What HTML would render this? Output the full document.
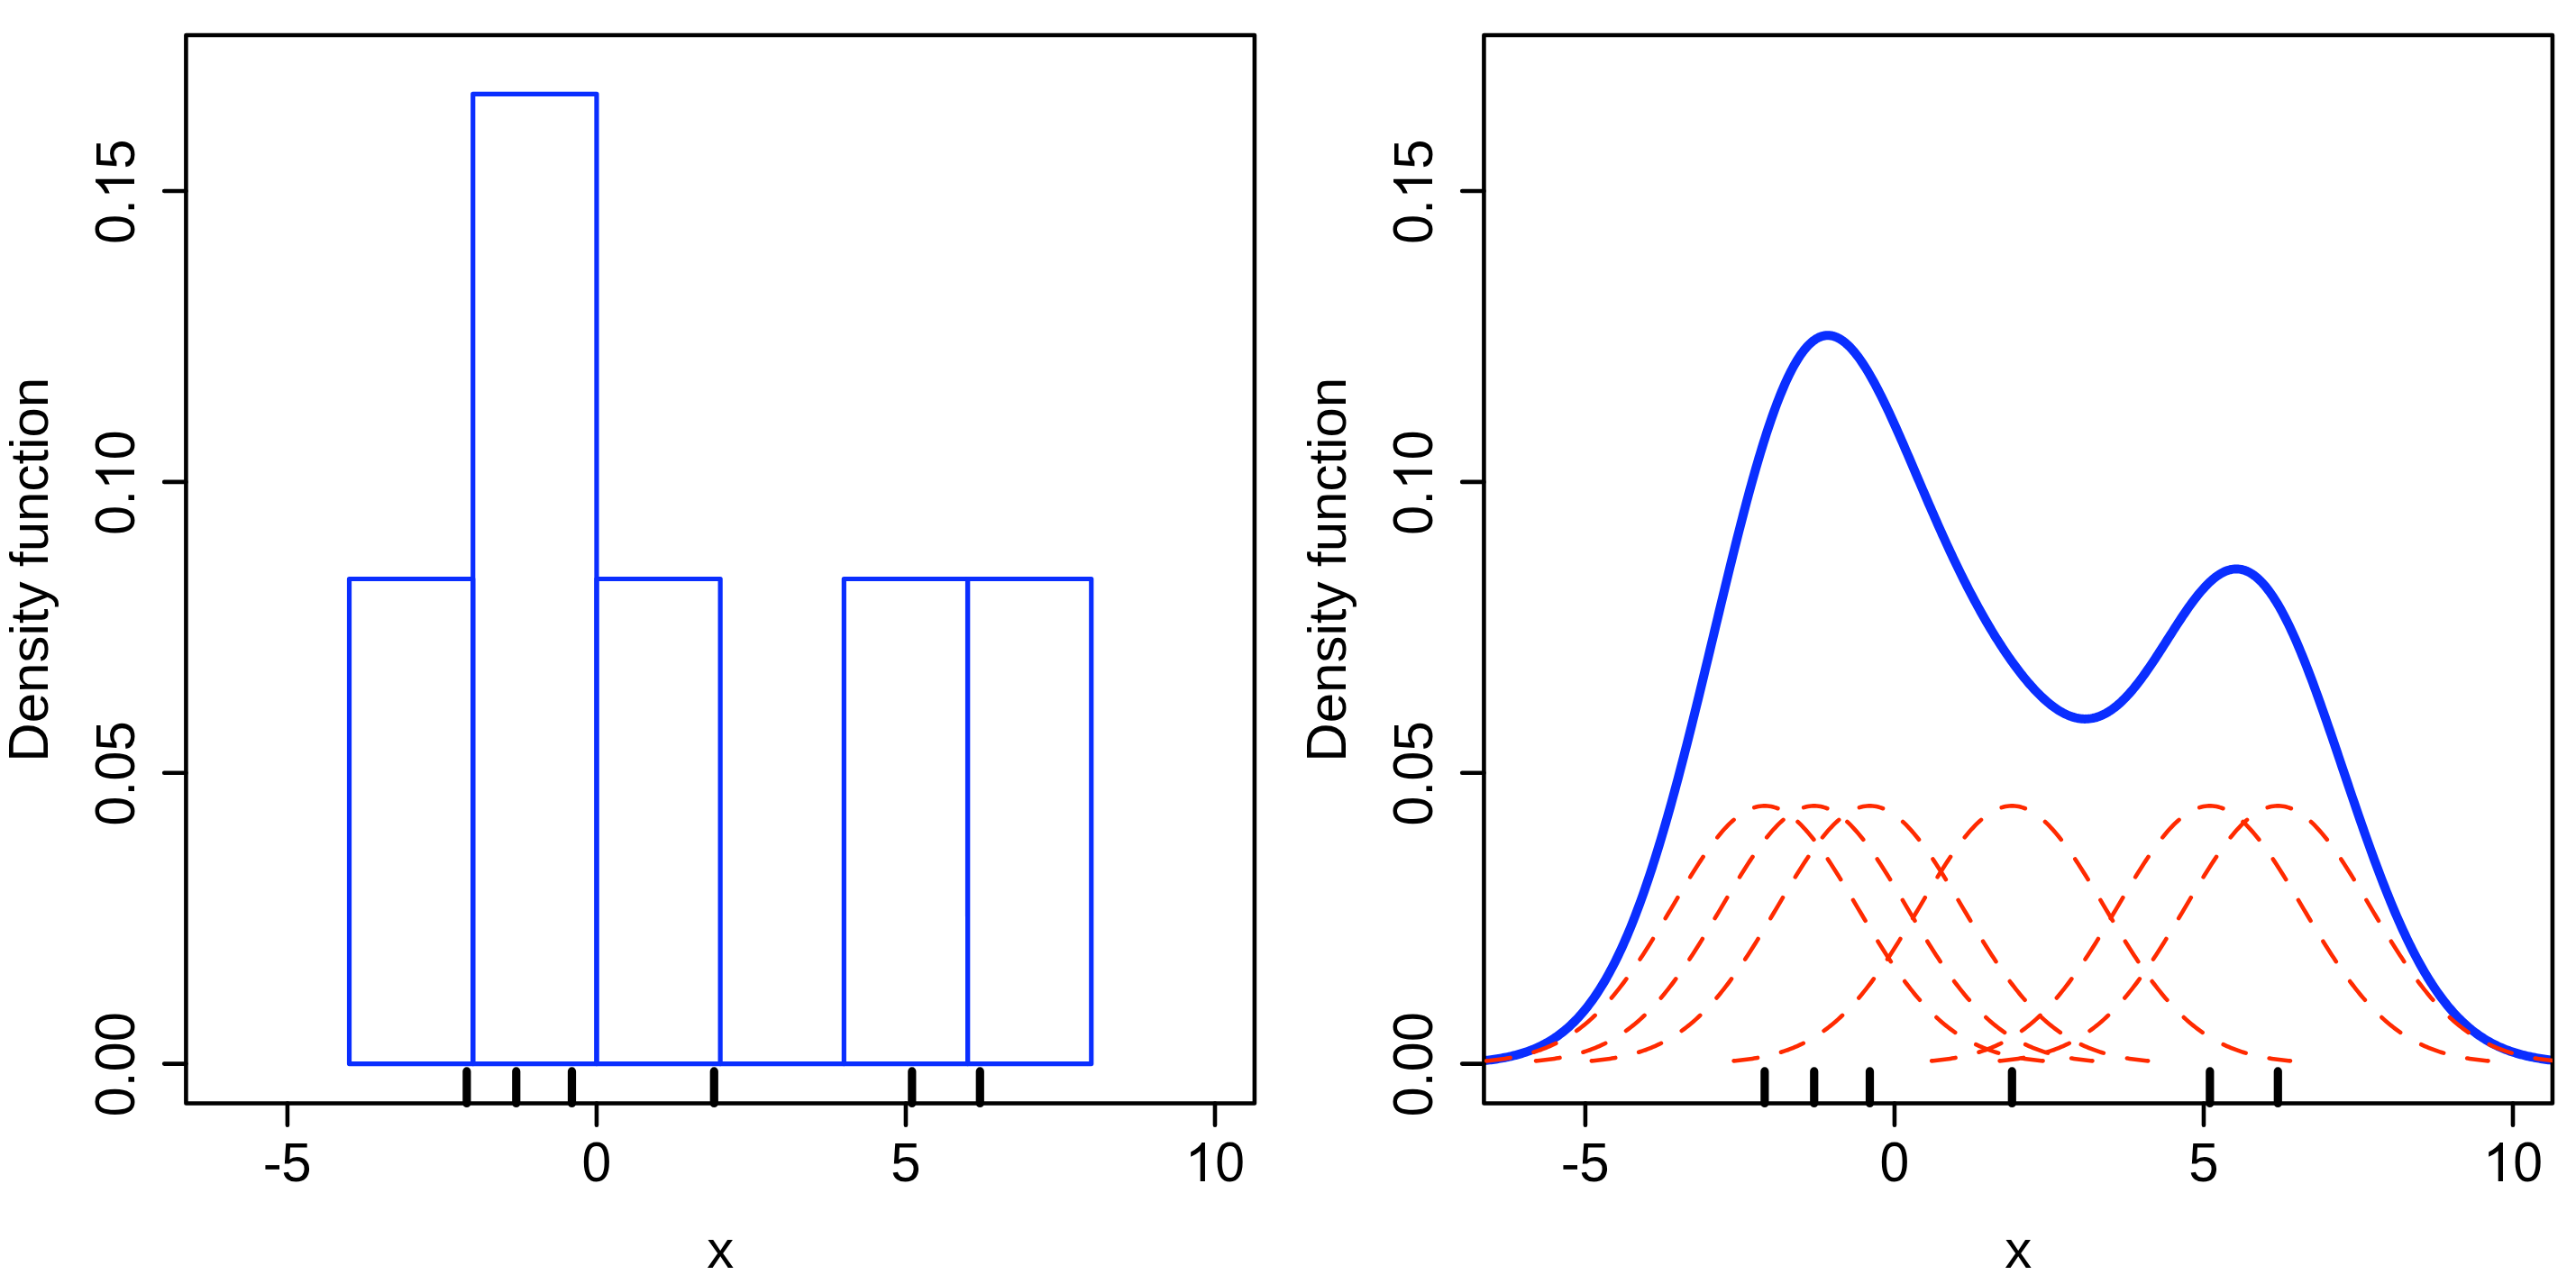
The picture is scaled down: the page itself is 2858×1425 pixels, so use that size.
<!DOCTYPE html><html><head><meta charset="utf-8"><style>html,body{margin:0;padding:0;background:#fff;overflow:hidden}svg{display:block}text{font-family:"Liberation Sans",sans-serif;font-size:60px;fill:#000}</style></head><body>
<svg width="2858" height="1425" viewBox="0 0 2858 1425">
<rect width="100%" height="100%" fill="#fff"/>
<defs>
<clipPath id="cl"><rect x="206.4" y="39" width="1185.5" height="1185.5"/></clipPath>
<clipPath id="cr"><rect x="1646.4" y="39" width="1185.5" height="1185.5"/></clipPath>
</defs>
<g clip-path="url(#cl)" fill="none" stroke="#0a2eff" stroke-width="5.2" stroke-linejoin="round" stroke-linecap="round">
<path d="M387.52,1180.59 L524.73,1180.59 L524.73,642.51 L387.52,642.51 Z"/>
<path d="M524.73,1180.59 L661.94,1180.59 L661.94,104.43 L524.73,104.43 Z"/>
<path d="M661.94,1180.59 L799.15,1180.59 L799.15,642.51 L661.94,642.51 Z"/>
<path d="M799.15,1180.59 L936.36,1180.59 L936.36,1180.59 L799.15,1180.59 Z"/>
<path d="M936.36,1180.59 L1073.57,1180.59 L1073.57,642.51 L936.36,642.51 Z"/>
<path d="M1073.57,1180.59 L1210.78,1180.59 L1210.78,642.51 L1073.57,642.51 Z"/>
</g>
<g fill="none" stroke="#000" stroke-width="4.6" stroke-linejoin="round" stroke-linecap="round">
<rect x="206.4" y="39" width="1185.5" height="1185.5"/>
<line x1="318.91" y1="1224.5" x2="318.91" y2="1248.7"/>
<line x1="661.94" y1="1224.5" x2="661.94" y2="1248.7"/>
<line x1="1004.97" y1="1224.5" x2="1004.97" y2="1248.7"/>
<line x1="1347.99" y1="1224.5" x2="1347.99" y2="1248.7"/>
<line x1="206.4" y1="1180.59" x2="182.2" y2="1180.59"/>
<line x1="206.4" y1="857.74" x2="182.2" y2="857.74"/>
<line x1="206.4" y1="534.9" x2="182.2" y2="534.9"/>
<line x1="206.4" y1="212.05" x2="182.2" y2="212.05"/>
</g>
<g stroke="#000" stroke-width="9.2" stroke-linecap="round">
<line x1="517.87" y1="1224.5" x2="517.87" y2="1188.93"/>
<line x1="572.75" y1="1224.5" x2="572.75" y2="1188.93"/>
<line x1="634.5" y1="1224.5" x2="634.5" y2="1188.93"/>
<line x1="792.29" y1="1224.5" x2="792.29" y2="1188.93"/>
<line x1="1011.83" y1="1224.5" x2="1011.83" y2="1188.93"/>
<line x1="1087.29" y1="1224.5" x2="1087.29" y2="1188.93"/>
</g>
<g transform="translate(318.91,1310.9)"><rect x="-24.48" y="-17.78" width="15.59" height="4.69"/><text transform="translate(-6.69,0) scale(1,1.025)">5</text></g>
<g transform="translate(661.94,1310.9)"><text transform="translate(0,0) scale(0.98,1.045) translate(-16.68,0)">0</text></g>
<g transform="translate(1004.97,1310.9)"><text transform="translate(-16.68,0) scale(1,1.025)">5</text></g>
<g transform="translate(1347.99,1310.9)"><path transform="translate(-33.37,0)" d="M 22.35,-0 L 17.08,-0 L 17.08,-33.6 Q 15.18,-31.79 12.07,-29.97 Q 8.96,-28.15 6.53,-27.25 L 6.53,-32.34 Q 10.9,-34.39 14.18,-37.32 Q 17.46,-40.25 18.84,-42.95 L 22.35,-42.95 Z"/><text transform="translate(16.68,0) scale(0.98,1.045) translate(-16.68,0)">0</text></g>
<g transform="translate(149,1181.29) rotate(-90)"><text transform="translate(-41.7,0) scale(0.98,1.045) translate(-16.68,0)">0</text><text transform="translate(-25.02,0) scale(1,1.03)">.</text><text transform="translate(8.33,0) scale(0.98,1.045) translate(-16.68,0)">0</text><text transform="translate(41.7,0) scale(0.98,1.045) translate(-16.68,0)">0</text></g>
<g transform="translate(149,858.44) rotate(-90)"><text transform="translate(-41.7,0) scale(0.98,1.045) translate(-16.68,0)">0</text><text transform="translate(-25.02,0) scale(1,1.03)">.</text><text transform="translate(8.33,0) scale(0.98,1.045) translate(-16.68,0)">0</text><text transform="translate(25.02,0) scale(1,1.025)">5</text></g>
<g transform="translate(149,535.6) rotate(-90)"><text transform="translate(-41.7,0) scale(0.98,1.045) translate(-16.68,0)">0</text><text transform="translate(-25.02,0) scale(1,1.03)">.</text><path transform="translate(-8.35,0)" d="M 22.35,-0 L 17.08,-0 L 17.08,-33.6 Q 15.18,-31.79 12.07,-29.97 Q 8.96,-28.15 6.53,-27.25 L 6.53,-32.34 Q 10.9,-34.39 14.18,-37.32 Q 17.46,-40.25 18.84,-42.95 L 22.35,-42.95 Z"/><text transform="translate(41.7,0) scale(0.98,1.045) translate(-16.68,0)">0</text></g>
<g transform="translate(149,212.75) rotate(-90)"><text transform="translate(-41.7,0) scale(0.98,1.045) translate(-16.68,0)">0</text><text transform="translate(-25.02,0) scale(1,1.03)">.</text><path transform="translate(-8.35,0)" d="M 22.35,-0 L 17.08,-0 L 17.08,-33.6 Q 15.18,-31.79 12.07,-29.97 Q 8.96,-28.15 6.53,-27.25 L 6.53,-32.34 Q 10.9,-34.39 14.18,-37.32 Q 17.46,-40.25 18.84,-42.95 L 22.35,-42.95 Z"/><text transform="translate(25.02,0) scale(1,1.025)">5</text></g>
<text x="799.15" y="1406.9" text-anchor="middle">x</text>
<g transform="translate(52.8,632.25) rotate(-90)"><text transform="translate(-213.44,0) scale(1,1.04)">D</text><text x="-170.11" y="0">ensity function</text></g>
<g clip-path="url(#cr)" fill="none" stroke="#0a2eff" stroke-width="10.0" stroke-linejoin="round" stroke-linecap="round">
<path d="M1649.14,1176.8 L1650.84,1176.6 L1652.54,1176.39 L1654.24,1176.18 L1655.94,1175.95 L1657.63,1175.71 L1659.33,1175.46 L1661.03,1175.2 L1662.73,1174.93 L1664.43,1174.65 L1666.12,1174.35 L1667.82,1174.04 L1669.52,1173.72 L1671.22,1173.39 L1672.92,1173.03 L1674.61,1172.67 L1676.31,1172.29 L1678.01,1171.89 L1679.71,1171.47 L1681.41,1171.04 L1683.1,1170.59 L1684.8,1170.12 L1686.5,1169.63 L1688.2,1169.13 L1689.9,1168.6 L1691.59,1168.05 L1693.29,1167.48 L1694.99,1166.88 L1696.69,1166.27 L1698.38,1165.62 L1700.08,1164.96 L1701.78,1164.27 L1703.48,1163.55 L1705.18,1162.81 L1706.87,1162.03 L1708.57,1161.23 L1710.27,1160.4 L1711.97,1159.54 L1713.67,1158.65 L1715.36,1157.73 L1717.06,1156.77 L1718.76,1155.78 L1720.46,1154.76 L1722.16,1153.7 L1723.85,1152.6 L1725.55,1151.46 L1727.25,1150.29 L1728.95,1149.08 L1730.65,1147.83 L1732.34,1146.53 L1734.04,1145.2 L1735.74,1143.82 L1737.44,1142.4 L1739.14,1140.93 L1740.83,1139.41 L1742.53,1137.85 L1744.23,1136.24 L1745.93,1134.58 L1747.63,1132.87 L1749.32,1131.11 L1751.02,1129.3 L1752.72,1127.44 L1754.42,1125.52 L1756.12,1123.54 L1757.81,1121.51 L1759.51,1119.42 L1761.21,1117.28 L1762.91,1115.07 L1764.61,1112.8 L1766.3,1110.48 L1768,1108.09 L1769.7,1105.64 L1771.4,1103.12 L1773.1,1100.54 L1774.79,1097.9 L1776.49,1095.18 L1778.19,1092.4 L1779.89,1089.56 L1781.58,1086.64 L1783.28,1083.65 L1784.98,1080.6 L1786.68,1077.47 L1788.38,1074.27 L1790.07,1070.99 L1791.77,1067.65 L1793.47,1064.23 L1795.17,1060.73 L1796.87,1057.16 L1798.56,1053.52 L1800.26,1049.8 L1801.96,1046 L1803.66,1042.12 L1805.36,1038.17 L1807.05,1034.14 L1808.75,1030.04 L1810.45,1025.85 L1812.15,1021.59 L1813.85,1017.25 L1815.54,1012.83 L1817.24,1008.33 L1818.94,1003.75 L1820.64,999.1 L1822.34,994.36 L1824.03,989.55 L1825.73,984.66 L1827.43,979.7 L1829.13,974.66 L1830.83,969.54 L1832.52,964.34 L1834.22,959.07 L1835.92,953.72 L1837.62,948.3 L1839.32,942.81 L1841.01,937.24 L1842.71,931.61 L1844.41,925.9 L1846.11,920.12 L1847.81,914.27 L1849.5,908.36 L1851.2,902.37 L1852.9,896.33 L1854.6,890.22 L1856.29,884.04 L1857.99,877.81 L1859.69,871.52 L1861.39,865.17 L1863.09,858.76 L1864.78,852.3 L1866.48,845.78 L1868.18,839.22 L1869.88,832.61 L1871.58,825.95 L1873.27,819.24 L1874.97,812.49 L1876.67,805.71 L1878.37,798.88 L1880.07,792.02 L1881.76,785.13 L1883.46,778.2 L1885.16,771.25 L1886.86,764.27 L1888.56,757.26 L1890.25,750.24 L1891.95,743.2 L1893.65,736.14 L1895.35,729.07 L1897.05,721.99 L1898.74,714.9 L1900.44,707.81 L1902.14,700.72 L1903.84,693.63 L1905.54,686.55 L1907.23,679.47 L1908.93,672.4 L1910.63,665.35 L1912.33,658.32 L1914.03,651.31 L1915.72,644.32 L1917.42,637.35 L1919.12,630.42 L1920.82,623.52 L1922.52,616.65 L1924.21,609.83 L1925.91,603.04 L1927.61,596.31 L1929.31,589.62 L1931.01,582.98 L1932.7,576.4 L1934.4,569.88 L1936.1,563.42 L1937.8,557.02 L1939.49,550.69 L1941.19,544.43 L1942.89,538.25 L1944.59,532.14 L1946.29,526.11 L1947.98,520.17 L1949.68,514.31 L1951.38,508.53 L1953.08,502.85 L1954.78,497.26 L1956.47,491.77 L1958.17,486.38 L1959.87,481.09 L1961.57,475.9 L1963.27,470.82 L1964.96,465.85 L1966.66,460.98 L1968.36,456.24 L1970.06,451.6 L1971.76,447.09 L1973.45,442.69 L1975.15,438.42 L1976.85,434.27 L1978.55,430.24 L1980.25,426.34 L1981.94,422.57 L1983.64,418.92 L1985.34,415.41 L1987.04,412.03 L1988.74,408.78 L1990.43,405.67 L1992.13,402.7 L1993.83,399.86 L1995.53,397.15 L1997.23,394.59 L1998.92,392.16 L2000.62,389.87 L2002.32,387.72 L2004.02,385.72 L2005.72,383.85 L2007.41,382.12 L2009.11,380.53 L2010.81,379.08 L2012.51,377.77 L2014.21,376.6 L2015.9,375.57 L2017.6,374.68 L2019.3,373.92 L2021,373.31 L2022.69,372.83 L2024.39,372.48 L2026.09,372.27 L2027.79,372.19 L2029.49,372.25 L2031.18,372.43 L2032.88,372.75 L2034.58,373.2 L2036.28,373.77 L2037.98,374.46 L2039.67,375.28 L2041.37,376.23 L2043.07,377.29 L2044.77,378.47 L2046.47,379.77 L2048.16,381.18 L2049.86,382.7 L2051.56,384.34 L2053.26,386.08 L2054.96,387.93 L2056.65,389.88 L2058.35,391.93 L2060.05,394.08 L2061.75,396.33 L2063.45,398.67 L2065.14,401.1 L2066.84,403.62 L2068.54,406.23 L2070.24,408.92 L2071.94,411.69 L2073.63,414.54 L2075.33,417.46 L2077.03,420.46 L2078.73,423.53 L2080.43,426.66 L2082.12,429.86 L2083.82,433.13 L2085.52,436.45 L2087.22,439.83 L2088.92,443.26 L2090.61,446.74 L2092.31,450.27 L2094.01,453.85 L2095.71,457.47 L2097.4,461.13 L2099.1,464.83 L2100.8,468.56 L2102.5,472.33 L2104.2,476.13 L2105.89,479.95 L2107.59,483.81 L2109.29,487.68 L2110.99,491.58 L2112.69,495.49 L2114.38,499.42 L2116.08,503.36 L2117.78,507.32 L2119.48,511.28 L2121.18,515.25 L2122.87,519.23 L2124.57,523.21 L2126.27,527.19 L2127.97,531.18 L2129.67,535.16 L2131.36,539.13 L2133.06,543.11 L2134.76,547.07 L2136.46,551.02 L2138.16,554.97 L2139.85,558.9 L2141.55,562.82 L2143.25,566.73 L2144.95,570.62 L2146.65,574.49 L2148.34,578.35 L2150.04,582.18 L2151.74,586 L2153.44,589.8 L2155.14,593.57 L2156.83,597.32 L2158.53,601.05 L2160.23,604.75 L2161.93,608.42 L2163.63,612.07 L2165.32,615.7 L2167.02,619.29 L2168.72,622.86 L2170.42,626.41 L2172.12,629.92 L2173.81,633.4 L2175.51,636.86 L2177.21,640.28 L2178.91,643.67 L2180.6,647.04 L2182.3,650.37 L2184,653.68 L2185.7,656.95 L2187.4,660.19 L2189.09,663.4 L2190.79,666.58 L2192.49,669.73 L2194.19,672.84 L2195.89,675.93 L2197.58,678.98 L2199.28,682 L2200.98,684.99 L2202.68,687.95 L2204.38,690.87 L2206.07,693.77 L2207.77,696.63 L2209.47,699.46 L2211.17,702.26 L2212.87,705.03 L2214.56,707.76 L2216.26,710.46 L2217.96,713.13 L2219.66,715.77 L2221.36,718.37 L2223.05,720.94 L2224.75,723.48 L2226.45,725.99 L2228.15,728.46 L2229.85,730.9 L2231.54,733.3 L2233.24,735.67 L2234.94,738.01 L2236.64,740.31 L2238.34,742.57 L2240.03,744.8 L2241.73,747 L2243.43,749.16 L2245.13,751.28 L2246.83,753.36 L2248.52,755.41 L2250.22,757.41 L2251.92,759.38 L2253.62,761.31 L2255.31,763.2 L2257.01,765.05 L2258.71,766.85 L2260.41,768.62 L2262.11,770.34 L2263.8,772.01 L2265.5,773.65 L2267.2,775.23 L2268.9,776.78 L2270.6,778.27 L2272.29,779.72 L2273.99,781.11 L2275.69,782.46 L2277.39,783.76 L2279.09,785.01 L2280.78,786.2 L2282.48,787.34 L2284.18,788.43 L2285.88,789.46 L2287.58,790.44 L2289.27,791.36 L2290.97,792.23 L2292.67,793.03 L2294.37,793.78 L2296.07,794.47 L2297.76,795.1 L2299.46,795.66 L2301.16,796.16 L2302.86,796.6 L2304.56,796.98 L2306.25,797.29 L2307.95,797.54 L2309.65,797.72 L2311.35,797.84 L2313.05,797.89 L2314.74,797.87 L2316.44,797.78 L2318.14,797.63 L2319.84,797.41 L2321.54,797.12 L2323.23,796.76 L2324.93,796.33 L2326.63,795.83 L2328.33,795.26 L2330.03,794.63 L2331.72,793.92 L2333.42,793.15 L2335.12,792.3 L2336.82,791.39 L2338.51,790.41 L2340.21,789.36 L2341.91,788.24 L2343.61,787.05 L2345.31,785.8 L2347,784.48 L2348.7,783.1 L2350.4,781.65 L2352.1,780.14 L2353.8,778.57 L2355.49,776.93 L2357.19,775.24 L2358.89,773.48 L2360.59,771.67 L2362.29,769.8 L2363.98,767.87 L2365.68,765.89 L2367.38,763.86 L2369.08,761.77 L2370.78,759.64 L2372.47,757.46 L2374.17,755.23 L2375.87,752.96 L2377.57,750.65 L2379.27,748.3 L2380.96,745.91 L2382.66,743.49 L2384.36,741.03 L2386.06,738.54 L2387.76,736.02 L2389.45,733.48 L2391.15,730.91 L2392.85,728.32 L2394.55,725.71 L2396.25,723.09 L2397.94,720.45 L2399.64,717.8 L2401.34,715.14 L2403.04,712.48 L2404.74,709.81 L2406.43,707.14 L2408.13,704.48 L2409.83,701.82 L2411.53,699.17 L2413.22,696.53 L2414.92,693.9 L2416.62,691.29 L2418.32,688.7 L2420.02,686.14 L2421.71,683.59 L2423.41,681.08 L2425.11,678.6 L2426.81,676.15 L2428.51,673.74 L2430.2,671.37 L2431.9,669.04 L2433.6,666.76 L2435.3,664.53 L2437,662.35 L2438.69,660.22 L2440.39,658.14 L2442.09,656.13 L2443.79,654.18 L2445.49,652.29 L2447.18,650.47 L2448.88,648.72 L2450.58,647.04 L2452.28,645.43 L2453.98,643.9 L2455.67,642.45 L2457.37,641.08 L2459.07,639.8 L2460.77,638.59 L2462.47,637.48 L2464.16,636.45 L2465.86,635.51 L2467.56,634.67 L2469.26,633.92 L2470.96,633.26 L2472.65,632.71 L2474.35,632.25 L2476.05,631.89 L2477.75,631.63 L2479.45,631.47 L2481.14,631.42 L2482.84,631.47 L2484.54,631.62 L2486.24,631.89 L2487.94,632.25 L2489.63,632.73 L2491.33,633.31 L2493.03,634 L2494.73,634.8 L2496.42,635.71 L2498.12,636.73 L2499.82,637.86 L2501.52,639.09 L2503.22,640.44 L2504.91,641.89 L2506.61,643.45 L2508.31,645.12 L2510.01,646.9 L2511.71,648.78 L2513.4,650.77 L2515.1,652.87 L2516.8,655.07 L2518.5,657.37 L2520.2,659.78 L2521.89,662.29 L2523.59,664.89 L2525.29,667.6 L2526.99,670.41 L2528.69,673.31 L2530.38,676.3 L2532.08,679.39 L2533.78,682.57 L2535.48,685.84 L2537.18,689.2 L2538.87,692.65 L2540.57,696.18 L2542.27,699.79 L2543.97,703.49 L2545.67,707.26 L2547.36,711.11 L2549.06,715.03 L2550.76,719.03 L2552.46,723.1 L2554.16,727.23 L2555.85,731.43 L2557.55,735.69 L2559.25,740.02 L2560.95,744.4 L2562.65,748.84 L2564.34,753.33 L2566.04,757.87 L2567.74,762.46 L2569.44,767.1 L2571.13,771.78 L2572.83,776.5 L2574.53,781.26 L2576.23,786.06 L2577.93,790.89 L2579.62,795.75 L2581.32,800.64 L2583.02,805.56 L2584.72,810.5 L2586.42,815.46 L2588.11,820.44 L2589.81,825.43 L2591.51,830.44 L2593.21,835.46 L2594.91,840.49 L2596.6,845.52 L2598.3,850.56 L2600,855.6 L2601.7,860.64 L2603.4,865.68 L2605.09,870.71 L2606.79,875.73 L2608.49,880.74 L2610.19,885.75 L2611.89,890.73 L2613.58,895.7 L2615.28,900.66 L2616.98,905.59 L2618.68,910.5 L2620.38,915.39 L2622.07,920.25 L2623.77,925.09 L2625.47,929.89 L2627.17,934.66 L2628.87,939.41 L2630.56,944.11 L2632.26,948.78 L2633.96,953.42 L2635.66,958.01 L2637.36,962.57 L2639.05,967.08 L2640.75,971.55 L2642.45,975.98 L2644.15,980.37 L2645.85,984.7 L2647.54,988.99 L2649.24,993.23 L2650.94,997.43 L2652.64,1001.57 L2654.33,1005.66 L2656.03,1009.7 L2657.73,1013.69 L2659.43,1017.62 L2661.13,1021.5 L2662.82,1025.33 L2664.52,1029.1 L2666.22,1032.82 L2667.92,1036.48 L2669.62,1040.08 L2671.31,1043.63 L2673.01,1047.12 L2674.71,1050.56 L2676.41,1053.94 L2678.11,1057.26 L2679.8,1060.52 L2681.5,1063.73 L2683.2,1066.88 L2684.9,1069.97 L2686.6,1073 L2688.29,1075.98 L2689.99,1078.9 L2691.69,1081.76 L2693.39,1084.57 L2695.09,1087.32 L2696.78,1090.01 L2698.48,1092.65 L2700.18,1095.23 L2701.88,1097.76 L2703.58,1100.23 L2705.27,1102.65 L2706.97,1105.02 L2708.67,1107.33 L2710.37,1109.59 L2712.07,1111.79 L2713.76,1113.95 L2715.46,1116.05 L2717.16,1118.1 L2718.86,1120.1 L2720.56,1122.06 L2722.25,1123.96 L2723.95,1125.82 L2725.65,1127.63 L2727.35,1129.39 L2729.05,1131.1 L2730.74,1132.77 L2732.44,1134.4 L2734.14,1135.98 L2735.84,1137.52 L2737.53,1139.02 L2739.23,1140.47 L2740.93,1141.88 L2742.63,1143.26 L2744.33,1144.59 L2746.02,1145.88 L2747.72,1147.14 L2749.42,1148.36 L2751.12,1149.54 L2752.82,1150.69 L2754.51,1151.8 L2756.21,1152.88 L2757.91,1153.92 L2759.61,1154.93 L2761.31,1155.91 L2763,1156.86 L2764.7,1157.78 L2766.4,1158.67 L2768.1,1159.53 L2769.8,1160.36 L2771.49,1161.16 L2773.19,1161.93 L2774.89,1162.68 L2776.59,1163.41 L2778.29,1164.1 L2779.98,1164.78 L2781.68,1165.43 L2783.38,1166.06 L2785.08,1166.66 L2786.78,1167.24 L2788.47,1167.81 L2790.17,1168.35 L2791.87,1168.87 L2793.57,1169.37 L2795.27,1169.86 L2796.96,1170.32 L2798.66,1170.77 L2800.36,1171.2 L2802.06,1171.62 L2803.76,1172.01 L2805.45,1172.4 L2807.15,1172.76 L2808.85,1173.12 L2810.55,1173.46 L2812.24,1173.78 L2813.94,1174.09 L2815.64,1174.39 L2817.34,1174.68 L2819.04,1174.96 L2820.73,1175.22 L2822.43,1175.47 L2824.13,1175.71 L2825.83,1175.95 L2827.53,1176.17 L2829.22,1176.38 L2830.92,1176.58 L2832.62,1176.78 L2834.32,1176.97 L2836.02,1177.14"/>
</g>
<g fill="none" stroke="#000" stroke-width="4.6" stroke-linejoin="round" stroke-linecap="round">
<rect x="1646.4" y="39" width="1185.5" height="1185.5"/>
<line x1="1758.91" y1="1224.5" x2="1758.91" y2="1248.7"/>
<line x1="2101.94" y1="1224.5" x2="2101.94" y2="1248.7"/>
<line x1="2444.97" y1="1224.5" x2="2444.97" y2="1248.7"/>
<line x1="2787.99" y1="1224.5" x2="2787.99" y2="1248.7"/>
<line x1="1646.4" y1="1180.59" x2="1622.2" y2="1180.59"/>
<line x1="1646.4" y1="857.74" x2="1622.2" y2="857.74"/>
<line x1="1646.4" y1="534.9" x2="1622.2" y2="534.9"/>
<line x1="1646.4" y1="212.05" x2="1622.2" y2="212.05"/>
</g>
<g clip-path="url(#cr)" fill="none" stroke="#ff2a00" stroke-width="4.6" stroke-linejoin="round" stroke-linecap="round" stroke-dasharray="26.7 26.7">
<path d="M1649.14,1177.41 L1651.21,1177.22 L1653.27,1177.01 L1655.34,1176.79 L1657.4,1176.56 L1659.47,1176.32 L1661.53,1176.06 L1663.6,1175.79 L1665.66,1175.51 L1667.73,1175.21 L1669.79,1174.9 L1671.86,1174.58 L1673.92,1174.23 L1675.99,1173.87 L1678.05,1173.49 L1680.12,1173.1 L1682.18,1172.68 L1684.25,1172.24 L1686.31,1171.79 L1688.38,1171.31 L1690.45,1170.81 L1692.51,1170.29 L1694.58,1169.75 L1696.64,1169.18 L1698.71,1168.58 L1700.77,1167.96 L1702.84,1167.32 L1704.9,1166.64 L1706.97,1165.94 L1709.03,1165.21 L1711.1,1164.45 L1713.16,1163.66 L1715.23,1162.83 L1717.29,1161.97 L1719.36,1161.08 L1721.42,1160.16 L1723.49,1159.2 L1725.55,1158.2 L1727.62,1157.17 L1729.68,1156.1 L1731.75,1154.99 L1733.81,1153.84 L1735.88,1152.65 L1737.94,1151.42 L1740.01,1150.15 L1742.07,1148.84 L1744.14,1147.48 L1746.2,1146.08 L1748.27,1144.63 L1750.33,1143.14 L1752.4,1141.6 L1754.46,1140.01 L1756.53,1138.38 L1758.59,1136.7 L1760.66,1134.97 L1762.72,1133.19 L1764.79,1131.36 L1766.85,1129.48 L1768.92,1127.55 L1770.98,1125.57 L1773.05,1123.54 L1775.11,1121.46 L1777.18,1119.33 L1779.24,1117.14 L1781.31,1114.91 L1783.37,1112.62 L1785.44,1110.28 L1787.5,1107.89 L1789.57,1105.45 L1791.63,1102.96 L1793.7,1100.42 L1795.76,1097.82 L1797.83,1095.18 L1799.89,1092.49 L1801.96,1089.76 L1804.02,1086.97 L1806.09,1084.14 L1808.15,1081.26 L1810.22,1078.34 L1812.28,1075.37 L1814.35,1072.37 L1816.41,1069.32 L1818.48,1066.23 L1820.54,1063.1 L1822.61,1059.94 L1824.67,1056.74 L1826.74,1053.5 L1828.8,1050.24 L1830.87,1046.94 L1832.93,1043.62 L1835,1040.27 L1837.06,1036.89 L1839.13,1033.5 L1841.19,1030.08 L1843.26,1026.65 L1845.32,1023.2 L1847.39,1019.74 L1849.45,1016.27 L1851.52,1012.8 L1853.58,1009.32 L1855.65,1005.83 L1857.71,1002.35 L1859.78,998.87 L1861.84,995.4 L1863.91,991.94 L1865.97,988.49 L1868.04,985.05 L1870.1,981.64 L1872.17,978.24 L1874.23,974.87 L1876.3,971.53 L1878.36,968.23 L1880.43,964.95 L1882.49,961.71 L1884.56,958.52 L1886.62,955.37 L1888.69,952.26 L1890.75,949.21 L1892.82,946.21 L1894.88,943.26 L1896.95,940.38 L1899.01,937.56 L1901.08,934.8 L1903.14,932.11 L1905.21,929.5 L1907.27,926.96 L1909.34,924.49 L1911.4,922.11 L1913.47,919.81 L1915.53,917.6 L1917.6,915.47 L1919.66,913.43 L1921.73,911.49 L1923.79,909.64 L1925.86,907.89 L1927.93,906.24 L1929.99,904.69 L1932.06,903.24 L1934.12,901.9 L1936.19,900.66 L1938.25,899.53 L1940.32,898.51 L1942.38,897.6 L1944.45,896.8 L1946.51,896.11 L1948.58,895.54 L1950.64,895.08 L1952.71,894.73 L1954.77,894.5 L1956.84,894.39 L1958.9,894.39 L1960.97,894.5 L1963.03,894.73 L1965.1,895.08 L1967.16,895.54 L1969.23,896.11 L1971.29,896.8 L1973.36,897.6 L1975.42,898.51 L1977.49,899.53 L1979.55,900.66 L1981.62,901.9 L1983.68,903.24 L1985.75,904.69 L1987.81,906.24 L1989.88,907.89 L1991.94,909.64 L1994.01,911.49 L1996.07,913.43 L1998.14,915.47 L2000.2,917.6 L2002.27,919.81 L2004.33,922.11 L2006.4,924.49 L2008.46,926.96 L2010.53,929.5 L2012.59,932.11 L2014.66,934.8 L2016.72,937.56 L2018.79,940.38 L2020.85,943.26 L2022.92,946.21 L2024.98,949.21 L2027.05,952.26 L2029.11,955.37 L2031.18,958.52 L2033.24,961.71 L2035.31,964.95 L2037.37,968.23 L2039.44,971.53 L2041.5,974.87 L2043.57,978.24 L2045.63,981.64 L2047.7,985.05 L2049.76,988.49 L2051.83,991.94 L2053.89,995.4 L2055.96,998.87 L2058.02,1002.35 L2060.09,1005.83 L2062.15,1009.32 L2064.22,1012.8 L2066.28,1016.27 L2068.35,1019.74 L2070.41,1023.2 L2072.48,1026.65 L2074.54,1030.08 L2076.61,1033.5 L2078.67,1036.89 L2080.74,1040.27 L2082.8,1043.62 L2084.87,1046.94 L2086.93,1050.24 L2089,1053.5 L2091.06,1056.74 L2093.13,1059.94 L2095.19,1063.1 L2097.26,1066.23 L2099.32,1069.32 L2101.39,1072.37 L2103.45,1075.37 L2105.52,1078.34 L2107.58,1081.26 L2109.65,1084.14 L2111.71,1086.97 L2113.78,1089.76 L2115.84,1092.49 L2117.91,1095.18 L2119.97,1097.82 L2122.04,1100.42 L2124.1,1102.96 L2126.17,1105.45 L2128.23,1107.89 L2130.3,1110.28 L2132.36,1112.62 L2134.43,1114.91 L2136.49,1117.14 L2138.56,1119.33 L2140.62,1121.46 L2142.69,1123.54 L2144.75,1125.57 L2146.82,1127.55 L2148.88,1129.48 L2150.95,1131.36 L2153.01,1133.19 L2155.08,1134.97 L2157.14,1136.7 L2159.21,1138.38 L2161.27,1140.01 L2163.34,1141.6 L2165.41,1143.14 L2167.47,1144.63 L2169.54,1146.08 L2171.6,1147.48 L2173.67,1148.84 L2175.73,1150.15 L2177.8,1151.42 L2179.86,1152.65 L2181.93,1153.84 L2183.99,1154.99 L2186.06,1156.1 L2188.12,1157.17 L2190.19,1158.2 L2192.25,1159.2 L2194.32,1160.16 L2196.38,1161.08 L2198.45,1161.97 L2200.51,1162.83 L2202.58,1163.66 L2204.64,1164.45 L2206.71,1165.21 L2208.77,1165.94 L2210.84,1166.64 L2212.9,1167.32 L2214.97,1167.96 L2217.03,1168.58 L2219.1,1169.18 L2221.16,1169.75 L2223.23,1170.29 L2225.29,1170.81 L2227.36,1171.31 L2229.42,1171.79 L2231.49,1172.24 L2233.55,1172.68 L2235.62,1173.1 L2237.68,1173.49 L2239.75,1173.87 L2241.81,1174.23 L2243.88,1174.58 L2245.94,1174.9 L2248.01,1175.21 L2250.07,1175.51 L2252.14,1175.79 L2254.2,1176.06 L2256.27,1176.32 L2258.33,1176.56 L2260.4,1176.79 L2262.46,1177.01 L2264.53,1177.22 L2266.59,1177.41"/>
<path d="M1704.03,1177.41 L1706.09,1177.22 L1708.16,1177.01 L1710.22,1176.79 L1712.29,1176.56 L1714.35,1176.32 L1716.42,1176.06 L1718.48,1175.79 L1720.55,1175.51 L1722.61,1175.21 L1724.68,1174.9 L1726.74,1174.58 L1728.81,1174.23 L1730.87,1173.87 L1732.94,1173.49 L1735,1173.1 L1737.07,1172.68 L1739.13,1172.24 L1741.2,1171.79 L1743.26,1171.31 L1745.33,1170.81 L1747.39,1170.29 L1749.46,1169.75 L1751.52,1169.18 L1753.59,1168.58 L1755.65,1167.96 L1757.72,1167.32 L1759.78,1166.64 L1761.85,1165.94 L1763.91,1165.21 L1765.98,1164.45 L1768.04,1163.66 L1770.11,1162.83 L1772.17,1161.97 L1774.24,1161.08 L1776.3,1160.16 L1778.37,1159.2 L1780.44,1158.2 L1782.5,1157.17 L1784.57,1156.1 L1786.63,1154.99 L1788.7,1153.84 L1790.76,1152.65 L1792.83,1151.42 L1794.89,1150.15 L1796.96,1148.84 L1799.02,1147.48 L1801.09,1146.08 L1803.15,1144.63 L1805.22,1143.14 L1807.28,1141.6 L1809.35,1140.01 L1811.41,1138.38 L1813.48,1136.7 L1815.54,1134.97 L1817.61,1133.19 L1819.67,1131.36 L1821.74,1129.48 L1823.8,1127.55 L1825.87,1125.57 L1827.93,1123.54 L1830,1121.46 L1832.06,1119.33 L1834.13,1117.14 L1836.19,1114.91 L1838.26,1112.62 L1840.32,1110.28 L1842.39,1107.89 L1844.45,1105.45 L1846.52,1102.96 L1848.58,1100.42 L1850.65,1097.82 L1852.71,1095.18 L1854.78,1092.49 L1856.84,1089.76 L1858.91,1086.97 L1860.97,1084.14 L1863.04,1081.26 L1865.1,1078.34 L1867.17,1075.37 L1869.23,1072.37 L1871.3,1069.32 L1873.36,1066.23 L1875.43,1063.1 L1877.49,1059.94 L1879.56,1056.74 L1881.62,1053.5 L1883.69,1050.24 L1885.75,1046.94 L1887.82,1043.62 L1889.88,1040.27 L1891.95,1036.89 L1894.01,1033.5 L1896.08,1030.08 L1898.14,1026.65 L1900.21,1023.2 L1902.27,1019.74 L1904.34,1016.27 L1906.4,1012.8 L1908.47,1009.32 L1910.53,1005.83 L1912.6,1002.35 L1914.66,998.87 L1916.73,995.4 L1918.79,991.94 L1920.86,988.49 L1922.92,985.05 L1924.99,981.64 L1927.05,978.24 L1929.12,974.87 L1931.18,971.53 L1933.25,968.23 L1935.31,964.95 L1937.38,961.71 L1939.44,958.52 L1941.51,955.37 L1943.57,952.26 L1945.64,949.21 L1947.7,946.21 L1949.77,943.26 L1951.83,940.38 L1953.9,937.56 L1955.96,934.8 L1958.03,932.11 L1960.09,929.5 L1962.16,926.96 L1964.22,924.49 L1966.29,922.11 L1968.35,919.81 L1970.42,917.6 L1972.48,915.47 L1974.55,913.43 L1976.61,911.49 L1978.68,909.64 L1980.74,907.89 L1982.81,906.24 L1984.87,904.69 L1986.94,903.24 L1989,901.9 L1991.07,900.66 L1993.13,899.53 L1995.2,898.51 L1997.26,897.6 L1999.33,896.8 L2001.39,896.11 L2003.46,895.54 L2005.52,895.08 L2007.59,894.73 L2009.65,894.5 L2011.72,894.39 L2013.78,894.39 L2015.85,894.5 L2017.92,894.73 L2019.98,895.08 L2022.05,895.54 L2024.11,896.11 L2026.18,896.8 L2028.24,897.6 L2030.31,898.51 L2032.37,899.53 L2034.44,900.66 L2036.5,901.9 L2038.57,903.24 L2040.63,904.69 L2042.7,906.24 L2044.76,907.89 L2046.83,909.64 L2048.89,911.49 L2050.96,913.43 L2053.02,915.47 L2055.09,917.6 L2057.15,919.81 L2059.22,922.11 L2061.28,924.49 L2063.35,926.96 L2065.41,929.5 L2067.48,932.11 L2069.54,934.8 L2071.61,937.56 L2073.67,940.38 L2075.74,943.26 L2077.8,946.21 L2079.87,949.21 L2081.93,952.26 L2084,955.37 L2086.06,958.52 L2088.13,961.71 L2090.19,964.95 L2092.26,968.23 L2094.32,971.53 L2096.39,974.87 L2098.45,978.24 L2100.52,981.64 L2102.58,985.05 L2104.65,988.49 L2106.71,991.94 L2108.78,995.4 L2110.84,998.87 L2112.91,1002.35 L2114.97,1005.83 L2117.04,1009.32 L2119.1,1012.8 L2121.17,1016.27 L2123.23,1019.74 L2125.3,1023.2 L2127.36,1026.65 L2129.43,1030.08 L2131.49,1033.5 L2133.56,1036.89 L2135.62,1040.27 L2137.69,1043.62 L2139.75,1046.94 L2141.82,1050.24 L2143.88,1053.5 L2145.95,1056.74 L2148.01,1059.94 L2150.08,1063.1 L2152.14,1066.23 L2154.21,1069.32 L2156.27,1072.37 L2158.34,1075.37 L2160.4,1078.34 L2162.47,1081.26 L2164.53,1084.14 L2166.6,1086.97 L2168.66,1089.76 L2170.73,1092.49 L2172.79,1095.18 L2174.86,1097.82 L2176.92,1100.42 L2178.99,1102.96 L2181.05,1105.45 L2183.12,1107.89 L2185.18,1110.28 L2187.25,1112.62 L2189.31,1114.91 L2191.38,1117.14 L2193.44,1119.33 L2195.51,1121.46 L2197.57,1123.54 L2199.64,1125.57 L2201.7,1127.55 L2203.77,1129.48 L2205.83,1131.36 L2207.9,1133.19 L2209.96,1134.97 L2212.03,1136.7 L2214.09,1138.38 L2216.16,1140.01 L2218.22,1141.6 L2220.29,1143.14 L2222.35,1144.63 L2224.42,1146.08 L2226.48,1147.48 L2228.55,1148.84 L2230.61,1150.15 L2232.68,1151.42 L2234.74,1152.65 L2236.81,1153.84 L2238.87,1154.99 L2240.94,1156.1 L2243,1157.17 L2245.07,1158.2 L2247.13,1159.2 L2249.2,1160.16 L2251.26,1161.08 L2253.33,1161.97 L2255.4,1162.83 L2257.46,1163.66 L2259.53,1164.45 L2261.59,1165.21 L2263.66,1165.94 L2265.72,1166.64 L2267.79,1167.32 L2269.85,1167.96 L2271.92,1168.58 L2273.98,1169.18 L2276.05,1169.75 L2278.11,1170.29 L2280.18,1170.81 L2282.24,1171.31 L2284.31,1171.79 L2286.37,1172.24 L2288.44,1172.68 L2290.5,1173.1 L2292.57,1173.49 L2294.63,1173.87 L2296.7,1174.23 L2298.76,1174.58 L2300.83,1174.9 L2302.89,1175.21 L2304.96,1175.51 L2307.02,1175.79 L2309.09,1176.06 L2311.15,1176.32 L2313.22,1176.56 L2315.28,1176.79 L2317.35,1177.01 L2319.41,1177.22 L2321.48,1177.41"/>
<path d="M1765.77,1177.41 L1767.84,1177.22 L1769.9,1177.01 L1771.97,1176.79 L1774.03,1176.56 L1776.1,1176.32 L1778.16,1176.06 L1780.23,1175.79 L1782.29,1175.51 L1784.36,1175.21 L1786.42,1174.9 L1788.49,1174.58 L1790.55,1174.23 L1792.62,1173.87 L1794.68,1173.49 L1796.75,1173.1 L1798.81,1172.68 L1800.88,1172.24 L1802.94,1171.79 L1805.01,1171.31 L1807.07,1170.81 L1809.14,1170.29 L1811.2,1169.75 L1813.27,1169.18 L1815.33,1168.58 L1817.4,1167.96 L1819.46,1167.32 L1821.53,1166.64 L1823.59,1165.94 L1825.66,1165.21 L1827.72,1164.45 L1829.79,1163.66 L1831.85,1162.83 L1833.92,1161.97 L1835.98,1161.08 L1838.05,1160.16 L1840.11,1159.2 L1842.18,1158.2 L1844.24,1157.17 L1846.31,1156.1 L1848.37,1154.99 L1850.44,1153.84 L1852.51,1152.65 L1854.57,1151.42 L1856.64,1150.15 L1858.7,1148.84 L1860.77,1147.48 L1862.83,1146.08 L1864.9,1144.63 L1866.96,1143.14 L1869.03,1141.6 L1871.09,1140.01 L1873.16,1138.38 L1875.22,1136.7 L1877.29,1134.97 L1879.35,1133.19 L1881.42,1131.36 L1883.48,1129.48 L1885.55,1127.55 L1887.61,1125.57 L1889.68,1123.54 L1891.74,1121.46 L1893.81,1119.33 L1895.87,1117.14 L1897.94,1114.91 L1900,1112.62 L1902.07,1110.28 L1904.13,1107.89 L1906.2,1105.45 L1908.26,1102.96 L1910.33,1100.42 L1912.39,1097.82 L1914.46,1095.18 L1916.52,1092.49 L1918.59,1089.76 L1920.65,1086.97 L1922.72,1084.14 L1924.78,1081.26 L1926.85,1078.34 L1928.91,1075.37 L1930.98,1072.37 L1933.04,1069.32 L1935.11,1066.23 L1937.17,1063.1 L1939.24,1059.94 L1941.3,1056.74 L1943.37,1053.5 L1945.43,1050.24 L1947.5,1046.94 L1949.56,1043.62 L1951.63,1040.27 L1953.69,1036.89 L1955.76,1033.5 L1957.82,1030.08 L1959.89,1026.65 L1961.95,1023.2 L1964.02,1019.74 L1966.08,1016.27 L1968.15,1012.8 L1970.21,1009.32 L1972.28,1005.83 L1974.34,1002.35 L1976.41,998.87 L1978.47,995.4 L1980.54,991.94 L1982.6,988.49 L1984.67,985.05 L1986.73,981.64 L1988.8,978.24 L1990.86,974.87 L1992.93,971.53 L1994.99,968.23 L1997.06,964.95 L1999.12,961.71 L2001.19,958.52 L2003.25,955.37 L2005.32,952.26 L2007.38,949.21 L2009.45,946.21 L2011.51,943.26 L2013.58,940.38 L2015.64,937.56 L2017.71,934.8 L2019.77,932.11 L2021.84,929.5 L2023.9,926.96 L2025.97,924.49 L2028.03,922.11 L2030.1,919.81 L2032.16,917.6 L2034.23,915.47 L2036.29,913.43 L2038.36,911.49 L2040.42,909.64 L2042.49,907.89 L2044.55,906.24 L2046.62,904.69 L2048.68,903.24 L2050.75,901.9 L2052.81,900.66 L2054.88,899.53 L2056.94,898.51 L2059.01,897.6 L2061.07,896.8 L2063.14,896.11 L2065.2,895.54 L2067.27,895.08 L2069.33,894.73 L2071.4,894.5 L2073.46,894.39 L2075.53,894.39 L2077.59,894.5 L2079.66,894.73 L2081.72,895.08 L2083.79,895.54 L2085.85,896.11 L2087.92,896.8 L2089.99,897.6 L2092.05,898.51 L2094.12,899.53 L2096.18,900.66 L2098.25,901.9 L2100.31,903.24 L2102.38,904.69 L2104.44,906.24 L2106.51,907.89 L2108.57,909.64 L2110.64,911.49 L2112.7,913.43 L2114.77,915.47 L2116.83,917.6 L2118.9,919.81 L2120.96,922.11 L2123.03,924.49 L2125.09,926.96 L2127.16,929.5 L2129.22,932.11 L2131.29,934.8 L2133.35,937.56 L2135.42,940.38 L2137.48,943.26 L2139.55,946.21 L2141.61,949.21 L2143.68,952.26 L2145.74,955.37 L2147.81,958.52 L2149.87,961.71 L2151.94,964.95 L2154,968.23 L2156.07,971.53 L2158.13,974.87 L2160.2,978.24 L2162.26,981.64 L2164.33,985.05 L2166.39,988.49 L2168.46,991.94 L2170.52,995.4 L2172.59,998.87 L2174.65,1002.35 L2176.72,1005.83 L2178.78,1009.32 L2180.85,1012.8 L2182.91,1016.27 L2184.98,1019.74 L2187.04,1023.2 L2189.11,1026.65 L2191.17,1030.08 L2193.24,1033.5 L2195.3,1036.89 L2197.37,1040.27 L2199.43,1043.62 L2201.5,1046.94 L2203.56,1050.24 L2205.63,1053.5 L2207.69,1056.74 L2209.76,1059.94 L2211.82,1063.1 L2213.89,1066.23 L2215.95,1069.32 L2218.02,1072.37 L2220.08,1075.37 L2222.15,1078.34 L2224.21,1081.26 L2226.28,1084.14 L2228.34,1086.97 L2230.41,1089.76 L2232.47,1092.49 L2234.54,1095.18 L2236.6,1097.82 L2238.67,1100.42 L2240.73,1102.96 L2242.8,1105.45 L2244.86,1107.89 L2246.93,1110.28 L2248.99,1112.62 L2251.06,1114.91 L2253.12,1117.14 L2255.19,1119.33 L2257.25,1121.46 L2259.32,1123.54 L2261.38,1125.57 L2263.45,1127.55 L2265.51,1129.48 L2267.58,1131.36 L2269.64,1133.19 L2271.71,1134.97 L2273.77,1136.7 L2275.84,1138.38 L2277.9,1140.01 L2279.97,1141.6 L2282.03,1143.14 L2284.1,1144.63 L2286.16,1146.08 L2288.23,1147.48 L2290.29,1148.84 L2292.36,1150.15 L2294.42,1151.42 L2296.49,1152.65 L2298.55,1153.84 L2300.62,1154.99 L2302.68,1156.1 L2304.75,1157.17 L2306.81,1158.2 L2308.88,1159.2 L2310.94,1160.16 L2313.01,1161.08 L2315.07,1161.97 L2317.14,1162.83 L2319.2,1163.66 L2321.27,1164.45 L2323.33,1165.21 L2325.4,1165.94 L2327.47,1166.64 L2329.53,1167.32 L2331.6,1167.96 L2333.66,1168.58 L2335.73,1169.18 L2337.79,1169.75 L2339.86,1170.29 L2341.92,1170.81 L2343.99,1171.31 L2346.05,1171.79 L2348.12,1172.24 L2350.18,1172.68 L2352.25,1173.1 L2354.31,1173.49 L2356.38,1173.87 L2358.44,1174.23 L2360.51,1174.58 L2362.57,1174.9 L2364.64,1175.21 L2366.7,1175.51 L2368.77,1175.79 L2370.83,1176.06 L2372.9,1176.32 L2374.96,1176.56 L2377.03,1176.79 L2379.09,1177.01 L2381.16,1177.22 L2383.22,1177.41"/>
<path d="M1923.57,1177.41 L1925.63,1177.22 L1927.7,1177.01 L1929.76,1176.79 L1931.83,1176.56 L1933.89,1176.32 L1935.96,1176.06 L1938.02,1175.79 L1940.09,1175.51 L1942.15,1175.21 L1944.22,1174.9 L1946.28,1174.58 L1948.35,1174.23 L1950.41,1173.87 L1952.48,1173.49 L1954.54,1173.1 L1956.61,1172.68 L1958.67,1172.24 L1960.74,1171.79 L1962.8,1171.31 L1964.87,1170.81 L1966.93,1170.29 L1969,1169.75 L1971.06,1169.18 L1973.13,1168.58 L1975.19,1167.96 L1977.26,1167.32 L1979.32,1166.64 L1981.39,1165.94 L1983.45,1165.21 L1985.52,1164.45 L1987.58,1163.66 L1989.65,1162.83 L1991.71,1161.97 L1993.78,1161.08 L1995.84,1160.16 L1997.91,1159.2 L1999.97,1158.2 L2002.04,1157.17 L2004.1,1156.1 L2006.17,1154.99 L2008.23,1153.84 L2010.3,1152.65 L2012.36,1151.42 L2014.43,1150.15 L2016.49,1148.84 L2018.56,1147.48 L2020.62,1146.08 L2022.69,1144.63 L2024.75,1143.14 L2026.82,1141.6 L2028.88,1140.01 L2030.95,1138.38 L2033.01,1136.7 L2035.08,1134.97 L2037.14,1133.19 L2039.21,1131.36 L2041.27,1129.48 L2043.34,1127.55 L2045.4,1125.57 L2047.47,1123.54 L2049.53,1121.46 L2051.6,1119.33 L2053.66,1117.14 L2055.73,1114.91 L2057.79,1112.62 L2059.86,1110.28 L2061.92,1107.89 L2063.99,1105.45 L2066.05,1102.96 L2068.12,1100.42 L2070.18,1097.82 L2072.25,1095.18 L2074.31,1092.49 L2076.38,1089.76 L2078.44,1086.97 L2080.51,1084.14 L2082.57,1081.26 L2084.64,1078.34 L2086.7,1075.37 L2088.77,1072.37 L2090.83,1069.32 L2092.9,1066.23 L2094.96,1063.1 L2097.03,1059.94 L2099.09,1056.74 L2101.16,1053.5 L2103.22,1050.24 L2105.29,1046.94 L2107.35,1043.62 L2109.42,1040.27 L2111.48,1036.89 L2113.55,1033.5 L2115.61,1030.08 L2117.68,1026.65 L2119.74,1023.2 L2121.81,1019.74 L2123.87,1016.27 L2125.94,1012.8 L2128,1009.32 L2130.07,1005.83 L2132.13,1002.35 L2134.2,998.87 L2136.26,995.4 L2138.33,991.94 L2140.4,988.49 L2142.46,985.05 L2144.53,981.64 L2146.59,978.24 L2148.66,974.87 L2150.72,971.53 L2152.79,968.23 L2154.85,964.95 L2156.92,961.71 L2158.98,958.52 L2161.05,955.37 L2163.11,952.26 L2165.18,949.21 L2167.24,946.21 L2169.31,943.26 L2171.37,940.38 L2173.44,937.56 L2175.5,934.8 L2177.57,932.11 L2179.63,929.5 L2181.7,926.96 L2183.76,924.49 L2185.83,922.11 L2187.89,919.81 L2189.96,917.6 L2192.02,915.47 L2194.09,913.43 L2196.15,911.49 L2198.22,909.64 L2200.28,907.89 L2202.35,906.24 L2204.41,904.69 L2206.48,903.24 L2208.54,901.9 L2210.61,900.66 L2212.67,899.53 L2214.74,898.51 L2216.8,897.6 L2218.87,896.8 L2220.93,896.11 L2223,895.54 L2225.06,895.08 L2227.13,894.73 L2229.19,894.5 L2231.26,894.39 L2233.32,894.39 L2235.39,894.5 L2237.45,894.73 L2239.52,895.08 L2241.58,895.54 L2243.65,896.11 L2245.71,896.8 L2247.78,897.6 L2249.84,898.51 L2251.91,899.53 L2253.97,900.66 L2256.04,901.9 L2258.1,903.24 L2260.17,904.69 L2262.23,906.24 L2264.3,907.89 L2266.36,909.64 L2268.43,911.49 L2270.49,913.43 L2272.56,915.47 L2274.62,917.6 L2276.69,919.81 L2278.75,922.11 L2280.82,924.49 L2282.88,926.96 L2284.95,929.5 L2287.01,932.11 L2289.08,934.8 L2291.14,937.56 L2293.21,940.38 L2295.27,943.26 L2297.34,946.21 L2299.4,949.21 L2301.47,952.26 L2303.53,955.37 L2305.6,958.52 L2307.66,961.71 L2309.73,964.95 L2311.79,968.23 L2313.86,971.53 L2315.92,974.87 L2317.99,978.24 L2320.05,981.64 L2322.12,985.05 L2324.18,988.49 L2326.25,991.94 L2328.31,995.4 L2330.38,998.87 L2332.44,1002.35 L2334.51,1005.83 L2336.57,1009.32 L2338.64,1012.8 L2340.7,1016.27 L2342.77,1019.74 L2344.83,1023.2 L2346.9,1026.65 L2348.96,1030.08 L2351.03,1033.5 L2353.09,1036.89 L2355.16,1040.27 L2357.22,1043.62 L2359.29,1046.94 L2361.35,1050.24 L2363.42,1053.5 L2365.48,1056.74 L2367.55,1059.94 L2369.61,1063.1 L2371.68,1066.23 L2373.74,1069.32 L2375.81,1072.37 L2377.88,1075.37 L2379.94,1078.34 L2382.01,1081.26 L2384.07,1084.14 L2386.14,1086.97 L2388.2,1089.76 L2390.27,1092.49 L2392.33,1095.18 L2394.4,1097.82 L2396.46,1100.42 L2398.53,1102.96 L2400.59,1105.45 L2402.66,1107.89 L2404.72,1110.28 L2406.79,1112.62 L2408.85,1114.91 L2410.92,1117.14 L2412.98,1119.33 L2415.05,1121.46 L2417.11,1123.54 L2419.18,1125.57 L2421.24,1127.55 L2423.31,1129.48 L2425.37,1131.36 L2427.44,1133.19 L2429.5,1134.97 L2431.57,1136.7 L2433.63,1138.38 L2435.7,1140.01 L2437.76,1141.6 L2439.83,1143.14 L2441.89,1144.63 L2443.96,1146.08 L2446.02,1147.48 L2448.09,1148.84 L2450.15,1150.15 L2452.22,1151.42 L2454.28,1152.65 L2456.35,1153.84 L2458.41,1154.99 L2460.48,1156.1 L2462.54,1157.17 L2464.61,1158.2 L2466.67,1159.2 L2468.74,1160.16 L2470.8,1161.08 L2472.87,1161.97 L2474.93,1162.83 L2477,1163.66 L2479.06,1164.45 L2481.13,1165.21 L2483.19,1165.94 L2485.26,1166.64 L2487.32,1167.32 L2489.39,1167.96 L2491.45,1168.58 L2493.52,1169.18 L2495.58,1169.75 L2497.65,1170.29 L2499.71,1170.81 L2501.78,1171.31 L2503.84,1171.79 L2505.91,1172.24 L2507.97,1172.68 L2510.04,1173.1 L2512.1,1173.49 L2514.17,1173.87 L2516.23,1174.23 L2518.3,1174.58 L2520.36,1174.9 L2522.43,1175.21 L2524.49,1175.51 L2526.56,1175.79 L2528.62,1176.06 L2530.69,1176.32 L2532.75,1176.56 L2534.82,1176.79 L2536.88,1177.01 L2538.95,1177.22 L2541.01,1177.41"/>
<path d="M2143.1,1177.41 L2145.17,1177.22 L2147.23,1177.01 L2149.3,1176.79 L2151.36,1176.56 L2153.43,1176.32 L2155.49,1176.06 L2157.56,1175.79 L2159.62,1175.51 L2161.69,1175.21 L2163.75,1174.9 L2165.82,1174.58 L2167.88,1174.23 L2169.95,1173.87 L2172.01,1173.49 L2174.08,1173.1 L2176.14,1172.68 L2178.21,1172.24 L2180.27,1171.79 L2182.34,1171.31 L2184.4,1170.81 L2186.47,1170.29 L2188.53,1169.75 L2190.6,1169.18 L2192.66,1168.58 L2194.73,1167.96 L2196.79,1167.32 L2198.86,1166.64 L2200.92,1165.94 L2202.99,1165.21 L2205.05,1164.45 L2207.12,1163.66 L2209.18,1162.83 L2211.25,1161.97 L2213.31,1161.08 L2215.38,1160.16 L2217.44,1159.2 L2219.51,1158.2 L2221.57,1157.17 L2223.64,1156.1 L2225.7,1154.99 L2227.77,1153.84 L2229.83,1152.65 L2231.9,1151.42 L2233.96,1150.15 L2236.03,1148.84 L2238.09,1147.48 L2240.16,1146.08 L2242.22,1144.63 L2244.29,1143.14 L2246.35,1141.6 L2248.42,1140.01 L2250.48,1138.38 L2252.55,1136.7 L2254.61,1134.97 L2256.68,1133.19 L2258.74,1131.36 L2260.81,1129.48 L2262.88,1127.55 L2264.94,1125.57 L2267.01,1123.54 L2269.07,1121.46 L2271.14,1119.33 L2273.2,1117.14 L2275.27,1114.91 L2277.33,1112.62 L2279.4,1110.28 L2281.46,1107.89 L2283.53,1105.45 L2285.59,1102.96 L2287.66,1100.42 L2289.72,1097.82 L2291.79,1095.18 L2293.85,1092.49 L2295.92,1089.76 L2297.98,1086.97 L2300.05,1084.14 L2302.11,1081.26 L2304.18,1078.34 L2306.24,1075.37 L2308.31,1072.37 L2310.37,1069.32 L2312.44,1066.23 L2314.5,1063.1 L2316.57,1059.94 L2318.63,1056.74 L2320.7,1053.5 L2322.76,1050.24 L2324.83,1046.94 L2326.89,1043.62 L2328.96,1040.27 L2331.02,1036.89 L2333.09,1033.5 L2335.15,1030.08 L2337.22,1026.65 L2339.28,1023.2 L2341.35,1019.74 L2343.41,1016.27 L2345.48,1012.8 L2347.54,1009.32 L2349.61,1005.83 L2351.67,1002.35 L2353.74,998.87 L2355.8,995.4 L2357.87,991.94 L2359.93,988.49 L2362,985.05 L2364.06,981.64 L2366.13,978.24 L2368.19,974.87 L2370.26,971.53 L2372.32,968.23 L2374.39,964.95 L2376.45,961.71 L2378.52,958.52 L2380.58,955.37 L2382.65,952.26 L2384.71,949.21 L2386.78,946.21 L2388.84,943.26 L2390.91,940.38 L2392.97,937.56 L2395.04,934.8 L2397.1,932.11 L2399.17,929.5 L2401.23,926.96 L2403.3,924.49 L2405.36,922.11 L2407.43,919.81 L2409.49,917.6 L2411.56,915.47 L2413.62,913.43 L2415.69,911.49 L2417.75,909.64 L2419.82,907.89 L2421.88,906.24 L2423.95,904.69 L2426.01,903.24 L2428.08,901.9 L2430.14,900.66 L2432.21,899.53 L2434.27,898.51 L2436.34,897.6 L2438.4,896.8 L2440.47,896.11 L2442.53,895.54 L2444.6,895.08 L2446.66,894.73 L2448.73,894.5 L2450.79,894.39 L2452.86,894.39 L2454.92,894.5 L2456.99,894.73 L2459.05,895.08 L2461.12,895.54 L2463.18,896.11 L2465.25,896.8 L2467.31,897.6 L2469.38,898.51 L2471.44,899.53 L2473.51,900.66 L2475.57,901.9 L2477.64,903.24 L2479.7,904.69 L2481.77,906.24 L2483.83,907.89 L2485.9,909.64 L2487.96,911.49 L2490.03,913.43 L2492.09,915.47 L2494.16,917.6 L2496.22,919.81 L2498.29,922.11 L2500.36,924.49 L2502.42,926.96 L2504.49,929.5 L2506.55,932.11 L2508.62,934.8 L2510.68,937.56 L2512.75,940.38 L2514.81,943.26 L2516.88,946.21 L2518.94,949.21 L2521.01,952.26 L2523.07,955.37 L2525.14,958.52 L2527.2,961.71 L2529.27,964.95 L2531.33,968.23 L2533.4,971.53 L2535.46,974.87 L2537.53,978.24 L2539.59,981.64 L2541.66,985.05 L2543.72,988.49 L2545.79,991.94 L2547.85,995.4 L2549.92,998.87 L2551.98,1002.35 L2554.05,1005.83 L2556.11,1009.32 L2558.18,1012.8 L2560.24,1016.27 L2562.31,1019.74 L2564.37,1023.2 L2566.44,1026.65 L2568.5,1030.08 L2570.57,1033.5 L2572.63,1036.89 L2574.7,1040.27 L2576.76,1043.62 L2578.83,1046.94 L2580.89,1050.24 L2582.96,1053.5 L2585.02,1056.74 L2587.09,1059.94 L2589.15,1063.1 L2591.22,1066.23 L2593.28,1069.32 L2595.35,1072.37 L2597.41,1075.37 L2599.48,1078.34 L2601.54,1081.26 L2603.61,1084.14 L2605.67,1086.97 L2607.74,1089.76 L2609.8,1092.49 L2611.87,1095.18 L2613.93,1097.82 L2616,1100.42 L2618.06,1102.96 L2620.13,1105.45 L2622.19,1107.89 L2624.26,1110.28 L2626.32,1112.62 L2628.39,1114.91 L2630.45,1117.14 L2632.52,1119.33 L2634.58,1121.46 L2636.65,1123.54 L2638.71,1125.57 L2640.78,1127.55 L2642.84,1129.48 L2644.91,1131.36 L2646.97,1133.19 L2649.04,1134.97 L2651.1,1136.7 L2653.17,1138.38 L2655.23,1140.01 L2657.3,1141.6 L2659.36,1143.14 L2661.43,1144.63 L2663.49,1146.08 L2665.56,1147.48 L2667.62,1148.84 L2669.69,1150.15 L2671.75,1151.42 L2673.82,1152.65 L2675.88,1153.84 L2677.95,1154.99 L2680.01,1156.1 L2682.08,1157.17 L2684.14,1158.2 L2686.21,1159.2 L2688.27,1160.16 L2690.34,1161.08 L2692.4,1161.97 L2694.47,1162.83 L2696.53,1163.66 L2698.6,1164.45 L2700.66,1165.21 L2702.73,1165.94 L2704.79,1166.64 L2706.86,1167.32 L2708.92,1167.96 L2710.99,1168.58 L2713.05,1169.18 L2715.12,1169.75 L2717.18,1170.29 L2719.25,1170.81 L2721.31,1171.31 L2723.38,1171.79 L2725.44,1172.24 L2727.51,1172.68 L2729.57,1173.1 L2731.64,1173.49 L2733.7,1173.87 L2735.77,1174.23 L2737.83,1174.58 L2739.9,1174.9 L2741.97,1175.21 L2744.03,1175.51 L2746.1,1175.79 L2748.16,1176.06 L2750.23,1176.32 L2752.29,1176.56 L2754.36,1176.79 L2756.42,1177.01 L2758.49,1177.22 L2760.55,1177.41"/>
<path d="M2218.57,1177.41 L2220.63,1177.22 L2222.7,1177.01 L2224.76,1176.79 L2226.83,1176.56 L2228.89,1176.32 L2230.96,1176.06 L2233.02,1175.79 L2235.09,1175.51 L2237.15,1175.21 L2239.22,1174.9 L2241.28,1174.58 L2243.35,1174.23 L2245.41,1173.87 L2247.48,1173.49 L2249.54,1173.1 L2251.61,1172.68 L2253.67,1172.24 L2255.74,1171.79 L2257.8,1171.31 L2259.87,1170.81 L2261.93,1170.29 L2264,1169.75 L2266.06,1169.18 L2268.13,1168.58 L2270.19,1167.96 L2272.26,1167.32 L2274.32,1166.64 L2276.39,1165.94 L2278.45,1165.21 L2280.52,1164.45 L2282.58,1163.66 L2284.65,1162.83 L2286.71,1161.97 L2288.78,1161.08 L2290.84,1160.16 L2292.91,1159.2 L2294.98,1158.2 L2297.04,1157.17 L2299.11,1156.1 L2301.17,1154.99 L2303.24,1153.84 L2305.3,1152.65 L2307.37,1151.42 L2309.43,1150.15 L2311.5,1148.84 L2313.56,1147.48 L2315.63,1146.08 L2317.69,1144.63 L2319.76,1143.14 L2321.82,1141.6 L2323.89,1140.01 L2325.95,1138.38 L2328.02,1136.7 L2330.08,1134.97 L2332.15,1133.19 L2334.21,1131.36 L2336.28,1129.48 L2338.34,1127.55 L2340.41,1125.57 L2342.47,1123.54 L2344.54,1121.46 L2346.6,1119.33 L2348.67,1117.14 L2350.73,1114.91 L2352.8,1112.62 L2354.86,1110.28 L2356.93,1107.89 L2358.99,1105.45 L2361.06,1102.96 L2363.12,1100.42 L2365.19,1097.82 L2367.25,1095.18 L2369.32,1092.49 L2371.38,1089.76 L2373.45,1086.97 L2375.51,1084.14 L2377.58,1081.26 L2379.64,1078.34 L2381.71,1075.37 L2383.77,1072.37 L2385.84,1069.32 L2387.9,1066.23 L2389.97,1063.1 L2392.03,1059.94 L2394.1,1056.74 L2396.16,1053.5 L2398.23,1050.24 L2400.29,1046.94 L2402.36,1043.62 L2404.42,1040.27 L2406.49,1036.89 L2408.55,1033.5 L2410.62,1030.08 L2412.68,1026.65 L2414.75,1023.2 L2416.81,1019.74 L2418.88,1016.27 L2420.94,1012.8 L2423.01,1009.32 L2425.07,1005.83 L2427.14,1002.35 L2429.2,998.87 L2431.27,995.4 L2433.33,991.94 L2435.4,988.49 L2437.46,985.05 L2439.53,981.64 L2441.59,978.24 L2443.66,974.87 L2445.72,971.53 L2447.79,968.23 L2449.85,964.95 L2451.92,961.71 L2453.98,958.52 L2456.05,955.37 L2458.11,952.26 L2460.18,949.21 L2462.24,946.21 L2464.31,943.26 L2466.37,940.38 L2468.44,937.56 L2470.5,934.8 L2472.57,932.11 L2474.63,929.5 L2476.7,926.96 L2478.76,924.49 L2480.83,922.11 L2482.89,919.81 L2484.96,917.6 L2487.02,915.47 L2489.09,913.43 L2491.15,911.49 L2493.22,909.64 L2495.28,907.89 L2497.35,906.24 L2499.41,904.69 L2501.48,903.24 L2503.54,901.9 L2505.61,900.66 L2507.67,899.53 L2509.74,898.51 L2511.8,897.6 L2513.87,896.8 L2515.93,896.11 L2518,895.54 L2520.06,895.08 L2522.13,894.73 L2524.19,894.5 L2526.26,894.39 L2528.32,894.39 L2530.39,894.5 L2532.45,894.73 L2534.52,895.08 L2536.59,895.54 L2538.65,896.11 L2540.72,896.8 L2542.78,897.6 L2544.85,898.51 L2546.91,899.53 L2548.98,900.66 L2551.04,901.9 L2553.11,903.24 L2555.17,904.69 L2557.24,906.24 L2559.3,907.89 L2561.37,909.64 L2563.43,911.49 L2565.5,913.43 L2567.56,915.47 L2569.63,917.6 L2571.69,919.81 L2573.76,922.11 L2575.82,924.49 L2577.89,926.96 L2579.95,929.5 L2582.02,932.11 L2584.08,934.8 L2586.15,937.56 L2588.21,940.38 L2590.28,943.26 L2592.34,946.21 L2594.41,949.21 L2596.47,952.26 L2598.54,955.37 L2600.6,958.52 L2602.67,961.71 L2604.73,964.95 L2606.8,968.23 L2608.86,971.53 L2610.93,974.87 L2612.99,978.24 L2615.06,981.64 L2617.12,985.05 L2619.19,988.49 L2621.25,991.94 L2623.32,995.4 L2625.38,998.87 L2627.45,1002.35 L2629.51,1005.83 L2631.58,1009.32 L2633.64,1012.8 L2635.71,1016.27 L2637.77,1019.74 L2639.84,1023.2 L2641.9,1026.65 L2643.97,1030.08 L2646.03,1033.5 L2648.1,1036.89 L2650.16,1040.27 L2652.23,1043.62 L2654.29,1046.94 L2656.36,1050.24 L2658.42,1053.5 L2660.49,1056.74 L2662.55,1059.94 L2664.62,1063.1 L2666.68,1066.23 L2668.75,1069.32 L2670.81,1072.37 L2672.88,1075.37 L2674.94,1078.34 L2677.01,1081.26 L2679.07,1084.14 L2681.14,1086.97 L2683.2,1089.76 L2685.27,1092.49 L2687.33,1095.18 L2689.4,1097.82 L2691.46,1100.42 L2693.53,1102.96 L2695.59,1105.45 L2697.66,1107.89 L2699.72,1110.28 L2701.79,1112.62 L2703.85,1114.91 L2705.92,1117.14 L2707.98,1119.33 L2710.05,1121.46 L2712.11,1123.54 L2714.18,1125.57 L2716.24,1127.55 L2718.31,1129.48 L2720.37,1131.36 L2722.44,1133.19 L2724.5,1134.97 L2726.57,1136.7 L2728.63,1138.38 L2730.7,1140.01 L2732.76,1141.6 L2734.83,1143.14 L2736.89,1144.63 L2738.96,1146.08 L2741.02,1147.48 L2743.09,1148.84 L2745.15,1150.15 L2747.22,1151.42 L2749.28,1152.65 L2751.35,1153.84 L2753.41,1154.99 L2755.48,1156.1 L2757.54,1157.17 L2759.61,1158.2 L2761.67,1159.2 L2763.74,1160.16 L2765.8,1161.08 L2767.87,1161.97 L2769.93,1162.83 L2772,1163.66 L2774.07,1164.45 L2776.13,1165.21 L2778.2,1165.94 L2780.26,1166.64 L2782.33,1167.32 L2784.39,1167.96 L2786.46,1168.58 L2788.52,1169.18 L2790.59,1169.75 L2792.65,1170.29 L2794.72,1170.81 L2796.78,1171.31 L2798.85,1171.79 L2800.91,1172.24 L2802.98,1172.68 L2805.04,1173.1 L2807.11,1173.49 L2809.17,1173.87 L2811.24,1174.23 L2813.3,1174.58 L2815.37,1174.9 L2817.43,1175.21 L2819.5,1175.51 L2821.56,1175.79 L2823.63,1176.06 L2825.69,1176.32 L2827.76,1176.56 L2829.82,1176.79 L2831.89,1177.01 L2833.95,1177.22 L2836.02,1177.41"/>
</g>
<g stroke="#000" stroke-width="9.2" stroke-linecap="round">
<line x1="1957.87" y1="1224.5" x2="1957.87" y2="1188.93"/>
<line x1="2012.75" y1="1224.5" x2="2012.75" y2="1188.93"/>
<line x1="2074.5" y1="1224.5" x2="2074.5" y2="1188.93"/>
<line x1="2232.29" y1="1224.5" x2="2232.29" y2="1188.93"/>
<line x1="2451.83" y1="1224.5" x2="2451.83" y2="1188.93"/>
<line x1="2527.29" y1="1224.5" x2="2527.29" y2="1188.93"/>
</g>
<g transform="translate(1758.91,1310.9)"><rect x="-24.48" y="-17.78" width="15.59" height="4.69"/><text transform="translate(-6.69,0) scale(1,1.025)">5</text></g>
<g transform="translate(2101.94,1310.9)"><text transform="translate(0,0) scale(0.98,1.045) translate(-16.68,0)">0</text></g>
<g transform="translate(2444.97,1310.9)"><text transform="translate(-16.68,0) scale(1,1.025)">5</text></g>
<g transform="translate(2787.99,1310.9)"><path transform="translate(-33.37,0)" d="M 22.35,-0 L 17.08,-0 L 17.08,-33.6 Q 15.18,-31.79 12.07,-29.97 Q 8.96,-28.15 6.53,-27.25 L 6.53,-32.34 Q 10.9,-34.39 14.18,-37.32 Q 17.46,-40.25 18.84,-42.95 L 22.35,-42.95 Z"/><text transform="translate(16.68,0) scale(0.98,1.045) translate(-16.68,0)">0</text></g>
<g transform="translate(1589,1181.29) rotate(-90)"><text transform="translate(-41.7,0) scale(0.98,1.045) translate(-16.68,0)">0</text><text transform="translate(-25.02,0) scale(1,1.03)">.</text><text transform="translate(8.33,0) scale(0.98,1.045) translate(-16.68,0)">0</text><text transform="translate(41.7,0) scale(0.98,1.045) translate(-16.68,0)">0</text></g>
<g transform="translate(1589,858.44) rotate(-90)"><text transform="translate(-41.7,0) scale(0.98,1.045) translate(-16.68,0)">0</text><text transform="translate(-25.02,0) scale(1,1.03)">.</text><text transform="translate(8.33,0) scale(0.98,1.045) translate(-16.68,0)">0</text><text transform="translate(25.02,0) scale(1,1.025)">5</text></g>
<g transform="translate(1589,535.6) rotate(-90)"><text transform="translate(-41.7,0) scale(0.98,1.045) translate(-16.68,0)">0</text><text transform="translate(-25.02,0) scale(1,1.03)">.</text><path transform="translate(-8.35,0)" d="M 22.35,-0 L 17.08,-0 L 17.08,-33.6 Q 15.18,-31.79 12.07,-29.97 Q 8.96,-28.15 6.53,-27.25 L 6.53,-32.34 Q 10.9,-34.39 14.18,-37.32 Q 17.46,-40.25 18.84,-42.95 L 22.35,-42.95 Z"/><text transform="translate(41.7,0) scale(0.98,1.045) translate(-16.68,0)">0</text></g>
<g transform="translate(1589,212.75) rotate(-90)"><text transform="translate(-41.7,0) scale(0.98,1.045) translate(-16.68,0)">0</text><text transform="translate(-25.02,0) scale(1,1.03)">.</text><path transform="translate(-8.35,0)" d="M 22.35,-0 L 17.08,-0 L 17.08,-33.6 Q 15.18,-31.79 12.07,-29.97 Q 8.96,-28.15 6.53,-27.25 L 6.53,-32.34 Q 10.9,-34.39 14.18,-37.32 Q 17.46,-40.25 18.84,-42.95 L 22.35,-42.95 Z"/><text transform="translate(25.02,0) scale(1,1.025)">5</text></g>
<text x="2239.15" y="1406.9" text-anchor="middle">x</text>
<g transform="translate(1492.8,632.25) rotate(-90)"><text transform="translate(-213.44,0) scale(1,1.04)">D</text><text x="-170.11" y="0">ensity function</text></g>
</svg></body></html>
